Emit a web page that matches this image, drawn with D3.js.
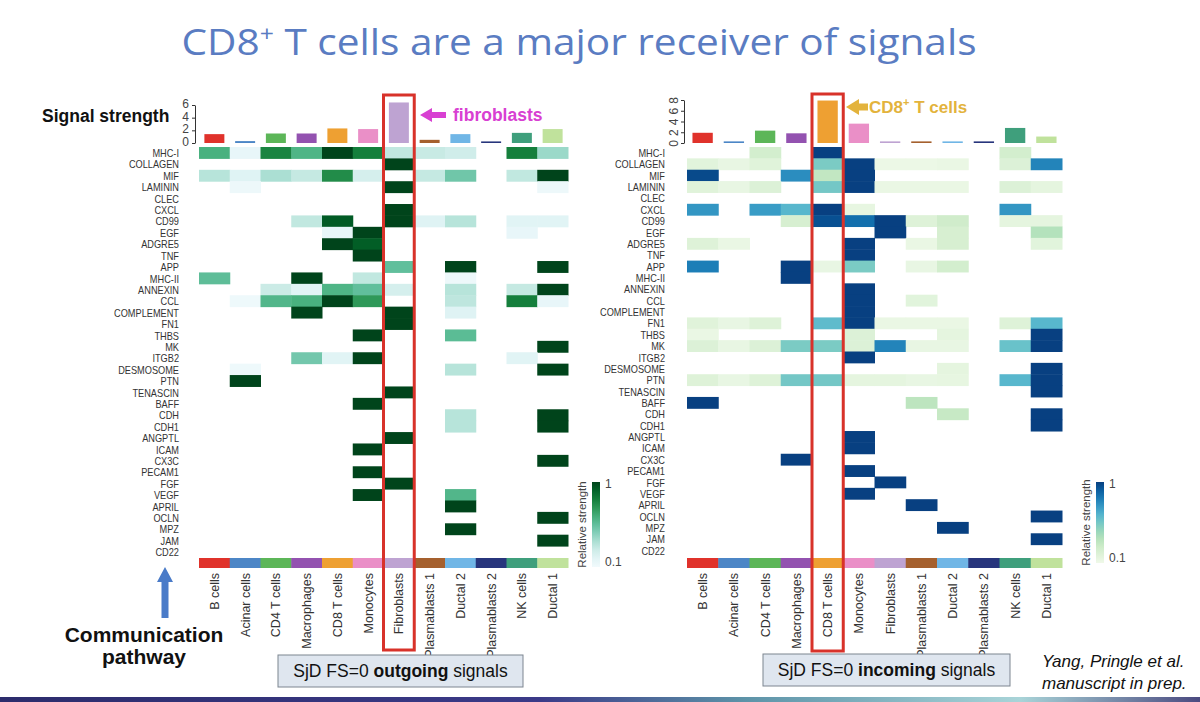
<!DOCTYPE html>
<html><head><meta charset="utf-8">
<script src="https://cdn.jsdelivr.net/npm/d3@7"></script>
<style>
body{margin:0;background:#fff}
svg{display:block;font-family:"Liberation Sans",Arial,sans-serif}
</style>
</head><body>
<svg id="c" width="1200" height="702"></svg>
<script>
// ---------------- DATA ----------------
const cellTypes = ["B cells","Acinar cells","CD4 T cells","Macrophages","CD8 T cells","Monocytes",
  "Fibroblasts","Plasmablasts 1","Ductal 2","Plasmablasts 2","NK cells","Ductal 1"];
const cellColors = ["#e0322b","#4c86c6","#5cb658","#9352b0","#eea032","#ea8fc7",
  "#bea3d2","#a5602e","#70b6e6","#27357c","#3f9f7c","#c0e29c"];
const pathways = ["MHC-I","COLLAGEN","MIF","LAMININ","CLEC","CXCL","CD99","EGF","ADGRE5","TNF","APP",
  "MHC-II","ANNEXIN","CCL","COMPLEMENT","FN1","THBS","MK","ITGB2","DESMOSOME","PTN","TENASCIN","BAFF",
  "CDH","CDH1","ANGPTL","ICAM","CX3C","PECAM1","FGF","VEGF","APRIL","OCLN","MPZ","JAM","CD22"];
const outgoingStrength = [1.4,0.3,1.5,1.5,2.3,2.2,6.4,0.5,1.4,0.25,1.6,2.2];
const incomingStrength = [1.9,0.3,2.3,1.8,7.9,3.6,0.3,0.3,0.3,0.3,2.8,1.2];
const outgoingTicks = [0,2,4,6];
const incomingTicks = [0,2,4,6,8];
// rows = pathways, columns = cellTypes; 0 = not shown
const outgoingMatrix = [
 [0.6,0.1,0.78,0.58,1,0.8,0.27,0.25,0.22,0,0.8,0.37],
 [0,0,0,0,0,0,1,0,0,0,0,0],
 [0.3,0.15,0.33,0.26,0.75,0.2,0,0.26,0.48,0,0.27,1],
 [0,0.07,0,0,0,0,1,0,0,0,0,0.07],
 [0,0,0,0,0,0,0,0,0,0,0,0],
 [0,0,0,0,0,0,1,0,0,0,0,0],
 [0,0,0,0.27,0.93,0,1,0.15,0.3,0,0.14,0.14],
 [0,0,0,0,0.1,1,0,0,0,0,0.1,0],
 [0,0,0,0,1,0.92,0,0,0,0,0,0],
 [0,0,0,0,0,1,0,0,0,0,0,0],
 [0,0,0,0,0,0,0.52,0,1,0,0,1],
 [0.53,0,0,1,0,0.27,0,0,0.07,0,0,0],
 [0,0,0.24,0.14,0.58,0.52,0.2,0,0.3,0,0.26,1],
 [0,0.06,0.57,0.6,1,0.7,0,0,0.28,0,0.8,0.1],
 [0,0,0,1,0,0,1,0,0.15,0,0,0],
 [0,0,0,0,0,0,1,0,0,0,0,0],
 [0,0,0,0,0,1,0,0,0.54,0,0,0],
 [0,0,0,0,0,0,0,0,0,0,0,1],
 [0,0,0,0.47,0.14,1,0,0,0,0,0.14,0],
 [0,0.06,0,0,0,0,0,0,0.3,0,0,1],
 [0,1,0,0,0,0,0,0,0,0,0,0],
 [0,0,0,0,0,0,1,0,0,0,0,0],
 [0,0,0,0,0,1,0,0,0,0,0,0],
 [0,0,0,0,0,0,0,0,0.3,0,0,1],
 [0,0,0,0,0,0,0,0,0.3,0,0,1],
 [0,0,0,0,0,0,1,0,0,0,0,0],
 [0,0,0,0,0,1,0,0,0,0,0,0],
 [0,0,0,0,0,0,0,0,0,0,0,1],
 [0,0,0,0,0,1,0,0,0,0,0,0],
 [0,0,0,0,0,0,1,0,0,0,0,0],
 [0,0,0,0,0,1,0,0,0.57,0,0,0],
 [0,0,0,0,0,0,0,0,1,0,0,0],
 [0,0,0,0,0,0,0,0,0,0,0,1],
 [0,0,0,0,0,0,0,0,1,0,0,0],
 [0,0,0,0,0,0,0,0,0,0,0,1],
 [0,0,0,0,0,0,0,0,0,0,0,0]
];
const incomingMatrix = [
 [0,0,0.2,0,1,0,0,0,0,0,0.2,0],
 [0.12,0.08,0.13,0,0.5,1,0.06,0.06,0.07,0,0.15,0.78],
 [0.97,0,0,0.75,0.28,1,0,0,0,0,0,0],
 [0.13,0.08,0.15,0,0.52,1,0.07,0.07,0.07,0,0.15,0.1],
 [0,0,0,0,0,0,0,0,0,0,0,0],
 [0.72,0,0.7,0.6,1,0.09,0,0,0,0,0.72,0],
 [0,0,0,0.18,0.95,0.85,1,0.14,0.22,0,0.1,0.1],
 [0,0,0,0,0,0,1,0,0.18,0,0,0.33],
 [0.14,0.07,0,0,0,1,0,0.07,0.18,0,0,0.12],
 [0,0,0,0,0,1,0,0,0,0,0,0],
 [0.8,0,0,1,0.08,0.5,0,0.08,0.2,0,0,0],
 [0,0,0,1,0,0,0,0,0,0,0,0],
 [0,0,0,0,0,1,0,0,0,0,0,0],
 [0,0,0,0,0,1,0,0.12,0,0,0,0],
 [0,0,0,0,0,1,0,0,0,0,0,0],
 [0.13,0.08,0.14,0,0.58,1,0.07,0.07,0.07,0,0.14,0.6],
 [0.07,0,0,0,0,0.15,0,0,0.1,0,0,1],
 [0.15,0.08,0.15,0.5,0.5,0.15,0.78,0.08,0.08,0,0.55,1],
 [0,0,0,0,0,1,0,0,0,0,0,0],
 [0,0,0,0,0,0,0,0,0.1,0,0,1],
 [0.14,0.08,0.14,0.52,0.52,0.1,0.1,0.08,0.09,0,0.6,1],
 [0,0,0,0,0,0,0,0,0,0,0,1],
 [1,0,0,0,0,0,0,0.3,0,0,0,0],
 [0,0,0,0,0,0,0,0,0.26,0,0,1],
 [0,0,0,0,0,0,0,0,0,0,0,1],
 [0,0,0,0,0,1,0,0,0,0,0,0],
 [0,0,0,0,0,1,0,0,0,0,0,0],
 [0,0,0,1,0,0,0,0,0,0,0,0],
 [0,0,0,0,0,1,0,0,0,0,0,0],
 [0,0,0,0,0,0,1,0,0,0,0,0],
 [0,0,0,0,0,1,0,0,0,0,0,0],
 [0,0,0,0,0,0,0,1,0,0,0,0],
 [0,0,0,0,0,0,0,0,0,0,0,1],
 [0,0,0,0,0,0,0,0,1,0,0,0],
 [0,0,0,0,0,0,0,0,0,0,0,1],
 [0,0,0,0,0,0,0,0,0,0,0,0]
];

// ---------------- DRAW ----------------
const svg = d3.select("#c");
const defs = svg.append("defs");
svg.append("rect").attr("width",1200).attr("height",702).attr("fill","#fff");

function drawPanel(p){
  const g = svg.append("g");
  const x = d3.scaleBand().domain(cellTypes).range([p.x0,p.x1]);
  const y = d3.scaleBand().domain(pathways).range([p.y0,p.y1]);
  const cells = [];
  p.matrix.forEach((row,i)=>row.forEach((v,j)=>{ if(v>0) cells.push({p:pathways[i],c:cellTypes[j],v}); }));
  g.selectAll("rect.cell").data(cells).join("rect").attr("class","cell")
    .attr("x",d=>x(d.c)).attr("y",d=>y(d.p))
    .attr("width",x.bandwidth()+0.5).attr("height",y.bandwidth()+0.5)
    .attr("fill",d=>p.interp(d.v));
  const labels = g.selectAll("text.row").data(pathways).join("text").attr("class","row")
    .attr("x",p.labelRight).attr("y",d=>y(d)+y.bandwidth()/2).attr("dy","0.38em")
    .attr("text-anchor","end").attr("font-size",11.5).attr("fill","#333").text(d=>d);
  labels.each(function(){
    const L = this.getComputedTextLength();
    this.setAttribute("textLength", L*0.8);
    this.setAttribute("lengthAdjust","spacingAndGlyphs");
  });
  // colour strip
  g.selectAll("rect.strip").data(cellTypes).join("rect").attr("class","strip")
    .attr("x",d=>x(d)).attr("y",p.stripY).attr("width",x.bandwidth()+0.5).attr("height",10)
    .attr("fill",(d,i)=>cellColors[i]);
  // column labels
  g.selectAll("text.col").data(cellTypes).join("text").attr("class","col")
    .attr("transform",d=>`translate(${x(d)+x.bandwidth()/2},${p.stripY+15}) rotate(-90)`)
    .attr("dy","0.36em").attr("text-anchor","end").attr("font-size",12.5).attr("fill","#333")
    .text(d=>d);
  // bars
  const yb = d3.scaleLinear().domain([0,p.maxTick]).range([p.barBase,p.barTopY]);
  const bw = x.bandwidth()*0.65;
  g.selectAll("rect.bar").data(p.strength).join("rect").attr("class","bar")
    .attr("x",(d,i)=>x(cellTypes[i])+(x.bandwidth()-bw)/2)
    .attr("y",d=>yb(d)).attr("width",bw).attr("height",d=>p.barBase-yb(d))
    .attr("fill",(d,i)=>cellColors[i]);
  const ax = g.append("g").attr("transform",`translate(${p.axisX},0)`)
    .call(d3.axisLeft(yb).tickValues(p.ticks).tickFormat(d3.format("d")).tickSize(3).tickSizeOuter(0));
  ax.select(".domain").attr("stroke","#333");
  ax.selectAll(".tick line").attr("stroke","#333");
  const tt = ax.selectAll(".tick text").attr("font-size",12).attr("fill","#444")
    .attr("font-family","Liberation Sans, Arial, sans-serif");
  if(p.rotateTicks){
    tt.attr("x",0).attr("y",-6).attr("dy",0).attr("text-anchor","middle").attr("transform","rotate(-90)");
  } else {
    tt.attr("dy","0.2em");
  }
  // highlight box
  const hx = x(cellTypes[p.highlight]);
  g.append("rect").attr("x",hx).attr("y",p.boxTop).attr("width",x.bandwidth())
    .attr("height",p.boxBottom-p.boxTop).attr("fill","none").attr("stroke","#d8322a").attr("stroke-width",3);
  // legend
  const gid = "grad"+p.id;
  const gr = defs.append("linearGradient").attr("id",gid).attr("x1",0).attr("y1",1).attr("x2",0).attr("y2",0);
  d3.range(0,1.0001,0.1).forEach(t=>{
    gr.append("stop").attr("offset",t).attr("stop-color",p.interp(0.04+0.96*t));
  });
  g.append("rect").attr("x",p.legX).attr("y",p.legY0).attr("width",8).attr("height",p.legY1-p.legY0)
    .attr("fill",`url(#${gid})`);
  g.append("text").attr("x",p.legX+13).attr("y",p.legY0+6).attr("font-size",12).attr("fill","#444").text("1");
  g.append("text").attr("x",p.legX+13).attr("y",p.legY1-1).attr("font-size",12).attr("fill","#444").text("0.1");
  g.append("text").attr("transform",`translate(${p.legX-6},${(p.legY0+p.legY1)/2}) rotate(-90)`)
    .attr("text-anchor","middle").attr("font-size",11.5).attr("fill","#444").text("Relative strength");
}

drawPanel({id:"L", x0:199, x1:568, y0:147, y1:557.5, stripY:558, labelRight:179,
  matrix:outgoingMatrix, strength:outgoingStrength, interp:d3.interpolateBuGn,
  barBase:143, barTopY:105, maxTick:6, ticks:outgoingTicks, axisX:195, rotateTicks:false,
  highlight:6, boxTop:95, boxBottom:650, legX:592, legY0:482, legY1:567});
drawPanel({id:"R", x0:687, x1:1062, y0:147, y1:556, stripY:558, labelRight:665,
  matrix:incomingMatrix, strength:incomingStrength, interp:d3.interpolateGnBu,
  barBase:143, barTopY:100, maxTick:8, ticks:incomingTicks, axisX:684, rotateTicks:true,
  highlight:4, boxTop:94, boxBottom:651, legX:1096, legY0:482, legY1:563});

// title
const title = svg.append("text").attr("x",579).attr("y",55).attr("text-anchor","middle")
  .attr("font-family","Open Sans, Noto Sans, sans-serif").attr("font-size",36).attr("fill","#5a7cc2");
title.append("tspan").text("CD8");
title.append("tspan").attr("font-size",22).attr("dy",-14).text("+");
title.append("tspan").attr("dy",14).text(" T cells are a major receiver of signals");
title.attr("textLength",795).attr("lengthAdjust","spacingAndGlyphs");

// signal strength label
svg.append("text").attr("x",42).attr("y",122).attr("font-size",17.5).attr("font-weight","bold")
  .attr("fill","#111").text("Signal strength");

// annotation arrows
function leftArrow(tx,ty,len,headL,headH,shaftH,color){
  const pts = [[tx,ty],[tx+headL,ty-headH],[tx+headL,ty-shaftH],[tx+len,ty-shaftH],
    [tx+len,ty+shaftH],[tx+headL,ty+shaftH],[tx+headL,ty+headH]];
  svg.append("polygon").attr("points",pts.map(p=>p.join(",")).join(" ")).attr("fill",color);
}
leftArrow(420,115,26,12,7,3,"#d840d2");
svg.append("text").attr("x",453).attr("y",121).attr("font-size",17.5).attr("font-weight","bold")
  .attr("fill","#d840d2").text("fibroblasts");
leftArrow(846,107,22,13,8,3.5,"#e3b33c");
const cdt = svg.append("text").attr("x",869).attr("y",113).attr("font-size",17).attr("font-weight","bold")
  .attr("fill","#e3b33c");
cdt.append("tspan").text("CD8");
cdt.append("tspan").attr("font-size",11).attr("dy",-7).text("+");
cdt.append("tspan").attr("dy",7).text(" T cells");

// communication pathway
svg.append("polygon").attr("fill","#4a7bc8")
  .attr("points",[[165,567],[173,582],[168.5,582],[168.5,618],[161.5,618],[161.5,582],[157,582]].map(p=>p.join(",")).join(" "));
svg.append("text").attr("x",144).attr("y",642).attr("text-anchor","middle").attr("font-size",21)
  .attr("font-weight","bold").attr("fill","#111").text("Communication");
svg.append("text").attr("x",144).attr("y",664).attr("text-anchor","middle").attr("font-size",21)
  .attr("font-weight","bold").attr("fill","#111").text("pathway");

// caption boxes
function capBox(x0,x1,y0,y1,word){
  svg.append("rect").attr("x",x0).attr("y",y0).attr("width",x1-x0).attr("height",y1-y0)
    .attr("fill","#dfe6ef").attr("stroke","#7d8590").attr("stroke-width",1);
  const t = svg.append("text").attr("x",(x0+x1)/2).attr("y",(y0+y1)/2+6).attr("text-anchor","middle")
    .attr("font-size",17.5).attr("fill","#111");
  t.append("tspan").text("SjD FS=0 ");
  t.append("tspan").attr("font-weight","bold").text(word);
  t.append("tspan").text(" signals");
}
capBox(278,523,655,687,"outgoing");
capBox(763,1010,654,686,"incoming");

svg.append("text").attr("x",1042).attr("y",667).attr("font-size",17).attr("font-style","italic")
  .attr("fill","#111").text("Yang, Pringle et al.");
svg.append("text").attr("x",1042).attr("y",689).attr("font-size",17).attr("font-style","italic")
  .attr("fill","#111").text("manuscript in prep.");

// bottom slide band
const bg = defs.append("linearGradient").attr("id","band").attr("x1",0).attr("x2",1).attr("y1",0).attr("y2",0);
[[0,"#2c2c6c"],[0.45,"#3b3a88"],[0.62,"#5d93a8"],[0.85,"#a9d4d8"],[1,"#4b4a80"]]
  .forEach(s=>bg.append("stop").attr("offset",s[0]).attr("stop-color",s[1]));
svg.append("rect").attr("x",0).attr("y",697).attr("width",1200).attr("height",5).attr("fill","url(#band)");
</script>
</body></html>
